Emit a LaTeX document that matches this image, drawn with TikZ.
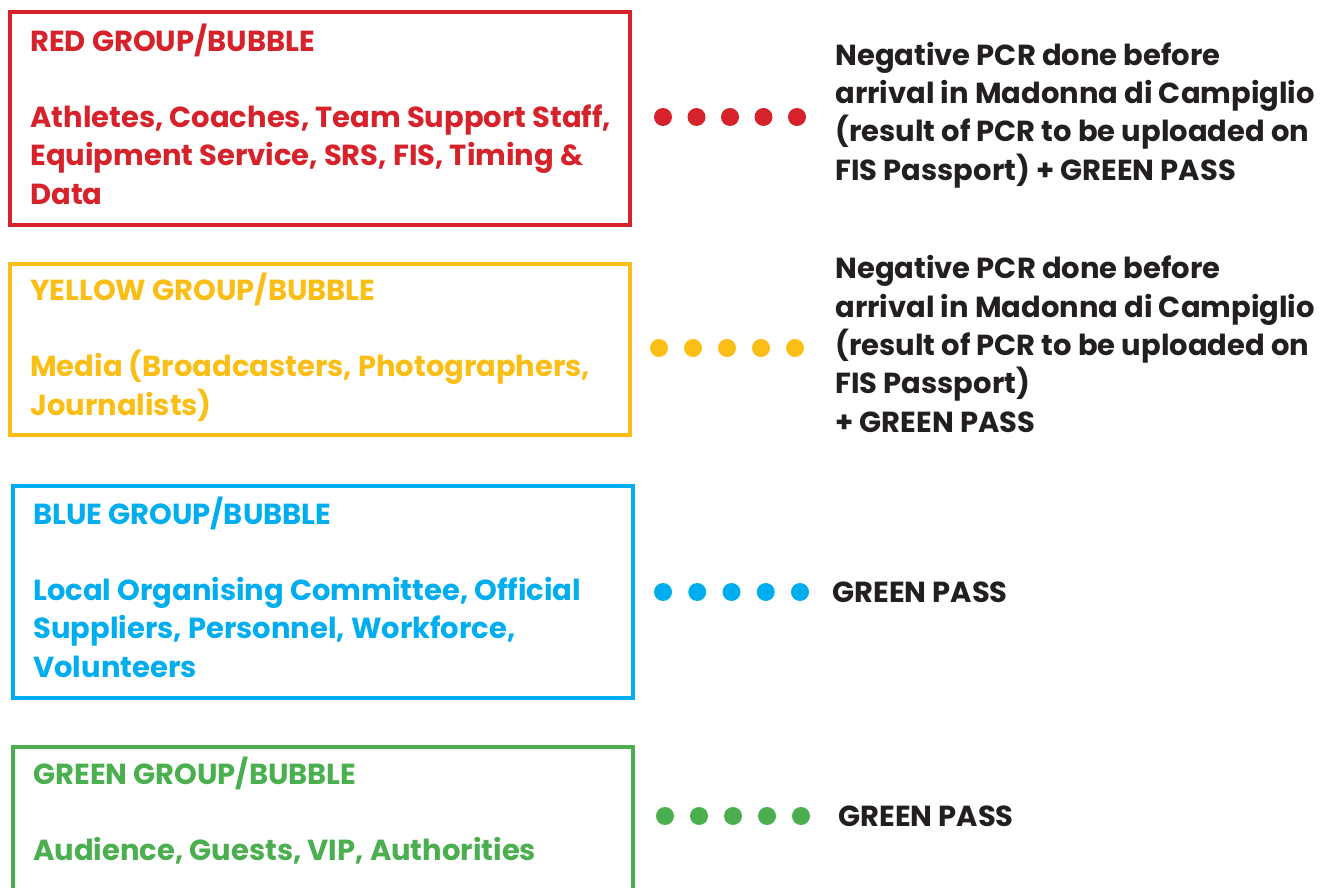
\documentclass[tikz,border=0pt]{standalone}
\usepackage{fontspec}
\setmainfont{Poppins}
\definecolor{bubblered}{HTML}{D6232B}
\definecolor{bubbleyellow}{HTML}{FBBE17}
\definecolor{bubbleblue}{HTML}{00AEEF}
\definecolor{bubblegreen}{HTML}{4BAE4F}
\definecolor{inkblack}{HTML}{231F20}
\begin{document}
\begin{tikzpicture}[
        x=0.02cm, y=-0.02cm,
        bubble/.style={draw=#1, line width=0.08cm, minimum width=12.4cm, inner sep=0pt},
        grouptext/.style={text=#1, font=\bfseries\fontsize{16.5}{21.8}\selectfont, align=left, anchor=west, inner sep=0pt},
        ruletext/.style={grouptext=inkblack},
        dot/.style={circle, fill=#1, minimum size=0.36cm, inner sep=0pt}
    ]
    \useasboundingbox (0,0) rectangle (1333,888);
    \clip (0,0) rectangle (1333,888);
    % Boxes
    \node[bubble=bubblered, minimum height=4.26cm] (redbox) at (320,118.5) {};
    \node[bubble=bubbleyellow, minimum height=3.42cm] (yellowbox) at (320,349.5) {};
    \node[bubble=bubbleblue, minimum height=4.24cm] (bluebox) at (323,592) {};
    \node[bubble=bubblegreen, minimum height=4.06cm] (greenbox) at (323,848.5) {};
    % Group texts
    \node[grouptext=bubblered] (redgroup) at (30,114) {RED GROUP/BUBBLE\\[21.8pt]
        Athletes, Coaches, Team Support Staff,\\Equipment Service, SRS, FIS, Timing \&\\Data};
    \node[grouptext=bubbleyellow] (yellowgroup) at (30,347) {YELLOW GROUP/BUBBLE\\[21.8pt]
        Media (Broadcasters, Photographers,\\Journalists)};
    \node[grouptext=bubbleblue] (bluegroup) at (33,587) {BLUE GROUP/BUBBLE\\[21.8pt]
        Local Organising Committee, Official\\Suppliers, Personnel, Workforce,\\Volunteers};
    \node[grouptext=bubblegreen] (greengroup) at (33,810.5) {GREEN GROUP/BUBBLE\\[21.8pt]
        Audience, Guests, VIP, Authorities};
    % Dots
    \foreach \i in {0,...,4} {
        \node[dot=bubblered] (reddot\i) at (663+33.5*\i,117) {};
        \node[dot=bubbleyellow] (yellowdot\i) at (659+34*\i,348) {};
        \node[dot=bubbleblue] (bluedot\i) at (663+34.25*\i,592) {};
        \node[dot=bubblegreen] (greendot\i) at (665+34*\i,816) {};
    }
    % Rules
    \node[ruletext] (redrule) at (835,115) {Negative PCR done before\\arrival in Madonna di Campiglio\\
        (result of PCR to be uploaded on\\FIS Passport) + GREEN PASS};
    \node[ruletext] (yellowrule) at (835,344) {Negative PCR done before\\arrival in Madonna di Campiglio\\
        (result of PCR to be uploaded on\\FIS Passport)\\+ GREEN PASS};
    \node[ruletext] (bluerule) at (832,592) {GREEN PASS};
    \node[ruletext] (greenrule) at (838,816) {GREEN PASS};
\end{tikzpicture}
\end{document}
